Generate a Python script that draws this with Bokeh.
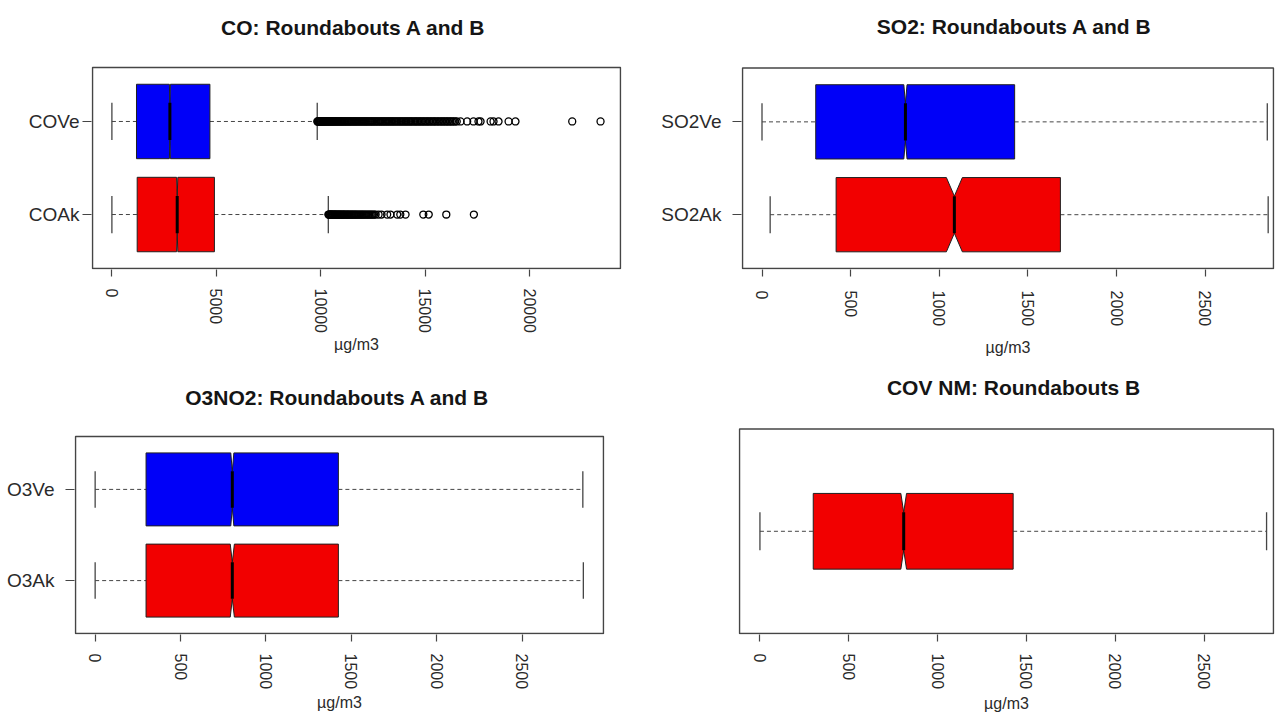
from bokeh.plotting import figure
from bokeh.layouts import row, column
from bokeh.models import FixedTicker, Range1d, Label
from bokeh.embed import file_html
from bokeh.resources import INLINE

FONT = "Liberation Sans"

# ---------------- data ----------------
# CO panel (bottom -> top)
co_groups = ["COAk", "COVe"]
co_low = [0, 0]
co_q1 = [1210, 1177]
co_med = [3125, 2775]
co_q3 = [4905, 4690]
co_high = [10355, 9825]
co_notch_lo = [3095, 2750]
co_notch_hi = [3155, 2800]
co_out_ak = [10360, 10380, 10410, 10430, 10460, 10490, 10510, 10540, 10570, 10600,
             10630, 10660, 10690, 10720, 10750, 10790, 10820, 10850, 10890, 10920,
             10960, 10990, 11030, 11070, 11100, 11140, 11180, 11220, 11260, 11300,
             11340, 11380, 11430, 11470, 11510, 11560, 11600, 11650, 11690, 11740,
             11790, 11840, 11890, 11940, 11990, 12040, 12090, 12150, 12200, 12260,
             12310, 12370, 12430, 12490, 12550, 12620, 12760, 12900, 13170, 13330,
             13650, 13800, 14050, 14900, 15160, 16000, 17320]
co_out_ve = [9830, 9850, 9880, 9900, 9930, 9950, 9980, 10000, 10030, 10060,
             10090, 10120, 10150, 10180, 10210, 10240, 10270, 10300, 10340, 10370,
             10400, 10440, 10470, 10510, 10540, 10580, 10620, 10650, 10690, 10730,
             10770, 10810, 10850, 10890, 10930, 10970, 11010, 11050, 11100, 11140,
             11180, 11230, 11270, 11320, 11360, 11410, 11450, 11500, 11550, 11600,
             11640, 11690, 11740, 11790, 11840, 11890, 11940, 11990, 12040, 12090,
             12140, 12190, 12240, 12290, 12350, 12400, 12450, 12500, 12560, 12610,
             12660, 12720, 12770, 12830, 12880, 12940, 12990, 13050, 13100, 13160,
             13220, 13270, 13330, 13390, 13440, 13500, 13560, 13620, 13680, 13740,
             13800, 13860, 13920, 13980, 14040, 14100, 14160, 14220, 14280, 14340,
             14400, 14470, 14530, 14590, 14650, 14720, 14780, 14840, 14910, 14970,
             15040, 15100, 15170, 15230, 15300, 15370, 15430, 15500, 15570, 15640,
             15710, 15780, 15850, 15920, 15990, 16060, 16130, 16200, 16270, 16340,
             16420, 16500, 16680, 17000, 17300, 17540, 17640, 18120, 18260, 18500,
             18980, 19310, 22025, 23380]
co_ticks = [0, 5000, 10000, 15000, 20000]

# SO2 panel
so2_groups = ["SO2Ak", "SO2Ve"]
so2_low = [46, 0]
so2_q1 = [418, 303]
so2_med = [1085, 809]
so2_q3 = [1683, 1425]
so2_high = [2855, 2850]
so2_notch_lo = [1040, 800]
so2_notch_hi = [1130, 818]

# O3NO2 panel
o3_groups = ["O3Ak", "O3Ve"]
o3_low = [0, 0]
o3_q1 = [298, 298]
o3_med = [803, 803]
o3_q3 = [1424, 1424]
o3_high = [2858, 2855]
o3_notch_lo = [791, 794]
o3_notch_hi = [815, 812]

# COV NM panel
cov_groups = ["COVNM"]
cov_low = [0]
cov_q1 = [300]
cov_med = [809]
cov_q3 = [1425]
cov_high = [2851]
cov_notch_lo = [793]
cov_notch_hi = [825]

ppm_ticks = [0, 500, 1000, 1500, 2000, 2500]

BLUE = "#0000F8"
RED = "#F20000"
FRAME = "#454545"


def make_panel(title, groups, low, q1, med, q3, high, nlo, nhi, colors, outliers,
               ticks, xr, yr, width, height, bl, br, bt, bb, halfw, show_y,
               title_cx, title_cy, ylab_standoff=12, xlab_standoff=0, xtick_standoff=12):
    # box (R plot region) in pixel coordinates of this figure
    box_l, box_r, box_t, box_b = bl, width - br, bt, height - bb
    sx = (xr[1] - xr[0]) / (box_r - box_l)
    sy = (yr[1] - yr[0]) / (box_b - box_t)
    # Bokeh frame: 1px outside the box on left/right/bottom, up to the top for the title
    x_range = Range1d(xr[0] - sx, xr[1] + sx)
    y_range = Range1d(yr[0] - sy, yr[1] + (box_t - 1) * sy)
    p = figure(width=width, height=height, output_backend="svg", toolbar_location=None,
               title=None, x_range=x_range, y_range=y_range,
               min_border_left=bl - 1, min_border_right=br - 1, min_border_top=1,
               min_border_bottom=bb - 1)
    p.background_fill_color = "white"
    p.border_fill_color = "white"
    p.xgrid.visible = False
    p.ygrid.visible = False
    p.outline_line_color = None

    # plot box
    p.quad(left=[xr[0]], right=[xr[1]], bottom=[yr[0]], top=[yr[1]],
           fill_color=None, line_color=FRAME, line_width=1.5)

    # title
    tx = xr[0] + (title_cx - box_l) * sx
    ty = yr[1] + (box_t - title_cy) * sy
    p.add_layout(Label(x=tx, y=ty, text=title, text_align="center",
                       text_baseline="middle", text_font=FONT, text_font_size="21px",
                       text_font_style="bold", text_color="#151515"))

    for i, g in enumerate(groups):
        pos = i + 1
        w = halfw
        wn = w * 0.5
        # whiskers
        p.segment(x0=[low[i], q3[i]], y0=[pos, pos], x1=[q1[i], high[i]], y1=[pos, pos],
                  line_color=FRAME, line_width=1, line_dash="4 3")
        # caps
        p.segment(x0=[low[i], high[i]], y0=[pos - w / 2] * 2, x1=[low[i], high[i]],
                  y1=[pos + w / 2] * 2, line_color=FRAME, line_width=1.3)
        # notched box
        xs = [q1[i], nlo[i], med[i], nhi[i], q3[i], q3[i], nhi[i], med[i], nlo[i], q1[i]]
        ys = [pos - w, pos - w, pos - wn, pos - w, pos - w,
              pos + w, pos + w, pos + wn, pos + w, pos + w]
        p.patch(xs, ys, fill_color=colors[i], line_color="#202020", line_width=1)
        # median
        p.segment(x0=[med[i]], y0=[pos - wn], x1=[med[i]], y1=[pos + wn],
                  line_color="black", line_width=3)
        # outliers
        if outliers is not None and outliers[i]:
            p.scatter(x=outliers[i], y=[pos] * len(outliers[i]), marker="circle", size=7,
                      fill_color=None, line_color="black", line_width=1.3)

    xa = p.xaxis[0]
    xa.ticker = FixedTicker(ticks=ticks)
    xa.major_label_orientation = "vertical"
    xa.major_label_text_font = FONT
    xa.major_label_text_font_size = "16px"
    xa.major_label_text_color = "#2a2a2a"
    xa.major_label_standoff = xtick_standoff
    xa.major_tick_out = 7
    xa.major_tick_in = 0
    xa.major_tick_line_color = FRAME
    xa.major_tick_line_width = 1.2
    xa.minor_tick_line_color = None
    xa.axis_line_color = None
    xa.axis_label = "µg/m3"
    xa.axis_label_text_font = FONT
    xa.axis_label_text_font_size = "16px"
    xa.axis_label_text_font_style = "normal"
    xa.axis_label_text_color = "#2a2a2a"
    xa.axis_label_standoff = xlab_standoff

    ya = p.yaxis[0]
    ya.axis_line_color = None
    ya.minor_tick_line_color = None
    if show_y:
        ya.ticker = FixedTicker(ticks=[i + 1 for i in range(len(groups))])
        ya.major_label_overrides = {i + 1: g for i, g in enumerate(groups)}
        ya.major_label_text_font = FONT
        ya.major_label_text_font_size = "19px"
        ya.major_label_text_color = "#2a2a2a"
        ya.major_label_standoff = ylab_standoff
        ya.major_tick_out = 9
        ya.major_tick_in = 0
        ya.major_tick_line_color = FRAME
        ya.major_tick_line_width = 1.2
    else:
        ya.ticker = FixedTicker(ticks=[])
        ya.major_tick_line_color = None
        ya.major_label_text_font_size = "0px"
    return p


p1 = make_panel("CO: Roundabouts A and B", co_groups, co_low, co_q1, co_med, co_q3,
                co_high, co_notch_lo, co_notch_hi, [RED, BLUE], [co_out_ak, co_out_ve],
                co_ticks, (-928, 24335), (0.42, 2.58), 640, 370, 92, 20, 67, 102, 0.4, True,
                353, 27, ylab_standoff=3, xlab_standoff=0)
p2 = make_panel("SO2: Roundabouts A and B", so2_groups, so2_low, so2_q1, so2_med, so2_q3,
                so2_high, so2_notch_lo, so2_notch_hi, [RED, BLUE], None,
                ppm_ticks, (-110, 2885), (0.42, 2.58), 636, 370, 102, 3, 70, 92, 0.4, True,
                374, 27, ylab_standoff=11, xlab_standoff=10, xtick_standoff=14)
p3 = make_panel("O3NO2: Roundabouts A and B", o3_groups, o3_low, o3_q1, o3_med, o3_q3,
                o3_high, o3_notch_lo, o3_notch_hi, [RED, BLUE], None,
                ppm_ticks, (-115, 2976), (0.42, 2.58), 640, 346, 75, 37, 66, 83, 0.4, True,
                337, 27, ylab_standoff=11, xlab_standoff=2)
p4 = make_panel("COV NM: Roundabouts B", cov_groups, cov_low, cov_q1, cov_med, cov_q3,
                cov_high, cov_notch_lo, cov_notch_hi, [RED], None,
                ppm_ticks, (-115, 2890), (0.46, 1.54), 636, 346, 99, 3, 59, 81, 0.2, False,
                373, 17, xlab_standoff=3)

layout = column(row(p1, p2, spacing=0), row(p3, p4, spacing=0), spacing=0)

open("out.html", "w").write(file_html(layout, INLINE))
